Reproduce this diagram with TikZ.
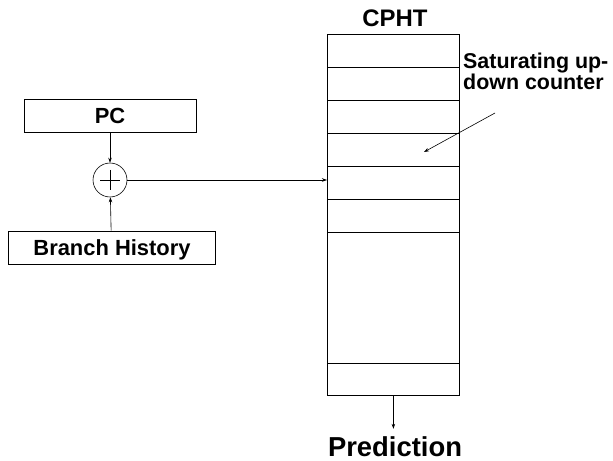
\documentclass[tikz,border=0pt]{standalone}
\usepackage{fontspec}
\setmainfont{Liberation Sans}
\usetikzlibrary{arrows.meta,calc}
\begin{document}
\begin{tikzpicture}[x=1bp,y=-1bp,
  box/.style={draw,line width=0.8bp,inner sep=0pt},
  lbl/.style={font=\bfseries\fontsize{22}{24}\selectfont,inner sep=0pt},
  conn/.style={line width=0.6bp,-{Stealth[length=5bp,width=3.5bp]}},
  cell/.style={line width=0.8bp}]
\useasboundingbox (0,0) rectangle (613,461);
% left boxes
\node[box,minimum width=172bp,minimum height=33bp] (pc) at (110,116) {};
\node[lbl,anchor=base] at (110,124) {PC};
\node[box,minimum width=207bp,minimum height=33bp] (bh) at (111.5,247.5) {};
\node[lbl,anchor=base] at (112,256) {Branch History};
\node[draw,circle,line width=0.6bp,minimum size=34bp,inner sep=0pt] (xor) at (110,180) {};
\draw[line width=0.6bp] ($(xor.center)+(-10,0)$) -- ($(xor.center)+(10,0)$);
\draw[line width=0.6bp] ($(xor.center)+(0,-10)$) -- ($(xor.center)+(0,10)$);
% table
\node[box,minimum width=132bp,minimum height=361bp,anchor=north west] (tab) at (327,34) {};
\foreach \y in {67,100,133,166,199,232,363}
  \draw[cell] (tab.west |- 0,\y) -- (tab.east |- 0,\y);
\node[font=\bfseries\fontsize{24}{26}\selectfont,inner sep=0pt,anchor=base] (title) at (395,27) {CPHT};
\node[font=\bfseries\fontsize{27.5}{30}\selectfont,inner sep=0pt,anchor=base] (pred) at (395,456) {Prediction};
\node[font=\bfseries\fontsize{21.5}{22}\selectfont,inner sep=0pt,align=left,anchor=base west] (sat) at (463,90) {Saturating up-\\down counter};
\coordinate (satend) at (424,152);
% connectors
\draw[conn] (pc) -- (xor);
\draw[conn] (bh) -- (xor);
\draw[conn] (xor.east) -- (tab.west |- xor.east);
\draw[conn] (tab.south) -- ($(tab.south)+(0,33)$) coordinate (predtop);
\draw[conn] (495,113) -- (satend);
\end{tikzpicture}
\end{document}
